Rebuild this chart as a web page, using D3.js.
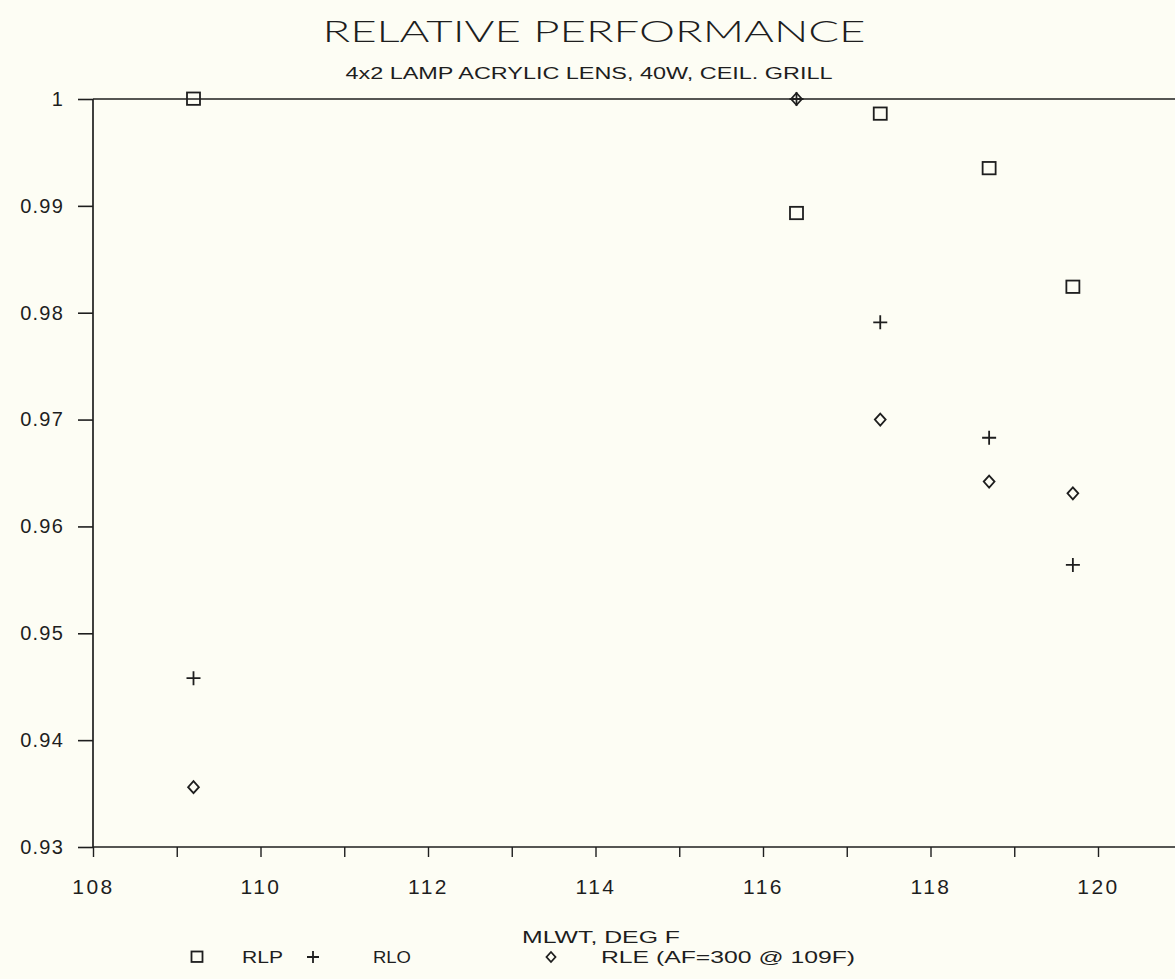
<!DOCTYPE html>
<html>
<head>
<meta charset="utf-8">
<script src="https://cdn.jsdelivr.net/npm/d3@7"></script>
<style>
  html, body { margin: 0; padding: 0; background: #fdfdf4; }
  svg { display: block; }
  text { font-family: "Liberation Sans", "DejaVu Sans", sans-serif; fill: #1e1e1e; }
</style>
</head>
<body>
<svg id="chart" width="1175" height="979"></svg>
<script>
// Water temperature readings (deg F)
const temps = [109.2, 116.4, 117.4, 118.7, 119.7];
// Relative lamp power
const rlp = [1.000, 0.9893, 0.9986, 0.9935, 0.9824];
// Relative light output
const rlo = [0.9458, 1.000, 0.9791, 0.9683, 0.9564];
// Relative lamp efficacy
const rle = [0.9356, 1.000, 0.9700, 0.9642, 0.9631];

const xTicks = [108, 109, 110, 111, 112, 113, 114, 115, 116, 117, 118, 119, 120, 121];
const yTicks = [0.93, 0.94, 0.95, 0.96, 0.97, 0.98, 0.99, 1];

const W = 1175, H = 979;
const ink = "#1e1e1e";
const svg = d3.select("#chart");

const x = d3.scaleLinear().domain([108, 121]).range([93, 93 + 13 * 83.75]);
const y = d3.scaleLinear().domain([0.93, 1]).range([847, 99]);

// Titles
svg.append("text")
  .attr("x", 594).attr("y", 42)
  .attr("text-anchor", "middle")
  .attr("font-size", 30)
  .attr("font-weight", 300)
  .attr("textLength", 543).attr("lengthAdjust", "spacingAndGlyphs")
  .style("font-family", "Lato, 'Open Sans', sans-serif")
  .text("RELATIVE PERFORMANCE");

svg.append("text")
  .attr("x", 589).attr("y", 79)
  .attr("text-anchor", "middle")
  .attr("font-size", 16)
  .attr("textLength", 487).attr("lengthAdjust", "spacingAndGlyphs")
  .text("4x2 LAMP ACRYLIC LENS, 40W, CEIL. GRILL");

// Y axis
const yAxis = d3.axisLeft(y)
  .tickValues(yTicks)
  .tickSize(15)
  .tickPadding(14)
  .tickFormat(d => d === 1 ? "1" : d.toFixed(2));
const gy = svg.append("g").attr("transform", `translate(${x(108)},0)`).call(yAxis);
gy.select(".domain").remove();
gy.selectAll(".tick line").attr("stroke", ink).attr("stroke-width", 1.6);
gy.selectAll(".tick text")
  .attr("font-size", 20)
  .attr("letter-spacing", 1.2)
  .style("font-family", "'Liberation Sans', sans-serif")
  .attr("fill", ink);

// X axis
const xAxis = d3.axisBottom(x)
  .tickValues(xTicks)
  .tickSize(10)
  .tickPadding(22)
  .tickFormat(d => d % 2 === 0 && d < 121 ? String(d) : "");
const gx = svg.append("g").attr("transform", `translate(0,${y(0.93)})`).call(xAxis);
gx.select(".domain").remove();
gx.selectAll(".tick line").attr("stroke", ink).attr("stroke-width", 1.4);
gx.selectAll(".tick text")
  .attr("font-size", 21)
  .attr("letter-spacing", 2.5)
  .style("font-family", "'Liberation Sans', sans-serif")
  .attr("fill", ink);

// Frame lines: left axis, bottom axis, top border at 1.0
svg.append("line")
  .attr("x1", x(108)).attr("x2", x(108))
  .attr("y1", y(1)).attr("y2", y(0.93))
  .attr("stroke", ink).attr("stroke-width", 1.7);
svg.append("line")
  .attr("x1", x(108)).attr("x2", W)
  .attr("y1", y(0.93)).attr("y2", y(0.93))
  .attr("stroke", ink).attr("stroke-width", 1.7);
svg.append("line")
  .attr("x1", x(108)).attr("x2", W)
  .attr("y1", y(1)).attr("y2", y(1))
  .attr("stroke", ink).attr("stroke-width", 1.7);

// Marker shapes
function square(g, cx, cy, s) {
  g.append("rect")
    .attr("x", cx - s / 2).attr("y", cy - s / 2)
    .attr("width", s).attr("height", s * 0.95)
    .attr("fill", "none").attr("stroke", ink).attr("stroke-width", 1.8);
}
function plus(g, cx, cy, s) {
  g.append("path")
    .attr("d", `M${cx - s / 2},${cy}H${cx + s / 2}M${cx},${cy - s / 2}V${cy + s / 2}`)
    .attr("fill", "none").attr("stroke", ink).attr("stroke-width", 1.8);
}
function diamond(g, cx, cy, s) {
  const w = s * 0.45, h = s * 0.5;
  g.append("path")
    .attr("d", `M${cx},${cy - h}L${cx + w},${cy}L${cx},${cy + h}L${cx - w},${cy}Z`)
    .attr("fill", "none").attr("stroke", ink).attr("stroke-width", 1.8);
}

const marks = svg.append("g");
temps.forEach((t, i) => square(marks, x(t), y(rlp[i]), 13));
temps.forEach((t, i) => plus(marks, x(t), y(rlo[i]), 14));
temps.forEach((t, i) => diamond(marks, x(t), y(rle[i]), 12));

// Axis title
svg.append("text")
  .attr("x", 601).attr("y", 943)
  .attr("text-anchor", "middle")
  .attr("font-size", 17)
  .attr("textLength", 158).attr("lengthAdjust", "spacingAndGlyphs")
  .text("MLWT, DEG F");

// Legend
const legY = 957;
const leg = svg.append("g");
square(leg, 197, legY, 11);
plus(leg, 313, legY, 12);
diamond(leg, 551, legY, 10);
leg.append("text").attr("x", 242).attr("y", legY + 6).attr("font-size", 17)
  .attr("textLength", 41).attr("lengthAdjust", "spacingAndGlyphs").text("RLP");
leg.append("text").attr("x", 373).attr("y", legY + 6).attr("font-size", 17)
  .attr("textLength", 38).attr("lengthAdjust", "spacingAndGlyphs").text("RLO");
leg.append("text").attr("x", 601).attr("y", legY + 6).attr("font-size", 17)
  .attr("textLength", 254).attr("lengthAdjust", "spacingAndGlyphs").text("RLE (AF=300 @ 109F)");
</script>
</body>
</html>
